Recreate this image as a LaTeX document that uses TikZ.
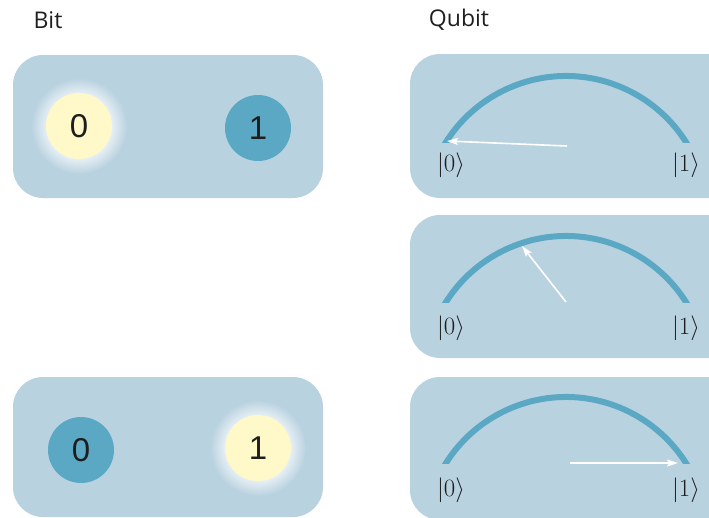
\documentclass[tikz,border=0pt]{standalone}
\usepackage{fontspec}
\usetikzlibrary{arrows.meta}
\newfontfamily\titlefont{Open Sans}
\newfontfamily\digitfont{Liberation Sans}
\definecolor{boxc}{HTML}{B9D2E0}
\definecolor{bluec}{HTML}{5BA8C5}
\definecolor{yellowc}{HTML}{FFF8C9}
\definecolor{inkc}{HTML}{1E1E1E}
\colorlet{glowc}{white!65!boxc}
\pgfdeclareradialshading{bitglow}{\pgfpoint{0bp}{0bp}}{%
  color(0bp)=(glowc); color(17bp)=(glowc); color(25bp)=(boxc)}
\tikzset{
  panel/.style={fill=boxc, rounded corners=30pt},
  title/.style={font=\titlefont\fontsize{23}{27}\selectfont, text=inkc},
  bitoff/.style={circle, fill=bluec, minimum size=66pt, inner sep=0pt,
    font=\digitfont\fontsize{33}{38}\selectfont, text=inkc},
  biton/.style={bitoff, fill=yellowc},
  track/.style={draw=bluec, line width=6pt},
  ket/.style={font=\fontsize{23.5}{27}\selectfont, text=inkc, inner sep=0pt},
  state/.style={draw=white, line width=1.6pt, -{Stealth[length=11pt,width=7pt,inset=2pt]}}
}
\begin{document}
\begin{tikzpicture}[x=1pt,y=-1pt]
  \useasboundingbox (0,0) rectangle (709,517);
  \clip (0,0) rectangle (709,517);

  % column titles
  \node[title] (tbit) at (48,20) {Bit};
  \node[title] (tqubit) at (459,20) {Qubit};

  % classical bit panels
  \fill[panel] (13,55) rectangle (323,198);
  \fill[panel] (13,377) rectangle (323,517);
  \shade[shading=bitglow] (79,126) circle [radius=48];
  \shade[shading=bitglow] (258,448) circle [radius=48];
  \node[biton]  (b0a) at (79,126) {0};
  \node[bitoff] (b1a) at (258,128) {1};
  \node[bitoff] (b0b) at (81,450) {0};
  \node[biton]  (b1b) at (258,448) {1};

  % qubit panels
  \fill[panel] (410,54) rectangle (760,198);
  \fill[panel] (410,215) rectangle (760,358);
  \fill[panel] (410,377) rectangle (760,520);

  % state arcs: circle of radius 142 whose centre lies 76 below the base
  % line; the ends are cut level with the base line
  \coordinate (c1) at (566,218);
  \coordinate (c2) at (566,378);
  \coordinate (c3) at (566,539);
  \begin{scope}
    \clip (400,42) rectangle (709,142);
    \draw[track] (c1) ++(205:142) arc[start angle=205, end angle=335, radius=142];
  \end{scope}
  \begin{scope}
    \clip (400,202) rectangle (709,302);
    \draw[track] (c2) ++(205:142) arc[start angle=205, end angle=335, radius=142];
  \end{scope}
  \begin{scope}
    \clip (400,363) rectangle (709,463);
    \draw[track] (c3) ++(205:142) arc[start angle=205, end angle=335, radius=142];
  \end{scope}

  % basis labels
  \node[ket] (k0a) at (451,165) {$|0\rangle$};
  \node[ket] (k1a) at (686,165) {$|1\rangle$};
  \node[ket] (k0b) at (451,328) {$|0\rangle$};
  \node[ket] (k1b) at (686,328) {$|1\rangle$};
  \node[ket] (k0c) at (451,490) {$|0\rangle$};
  \node[ket] (k1c) at (686,490) {$|1\rangle$};

  % state vectors
  \coordinate (o1) at (567,146);
  \coordinate (t1) at (447,141);
  \coordinate (o2) at (566,302);
  \coordinate (t2) at (522,246);
  \coordinate (o3) at (570,463);
  \coordinate (t3) at (678,463);
  \draw[state] (o1) -- (t1);
  \draw[state] (o2) -- (t2);
  \draw[state] (o3) -- (t3);
\end{tikzpicture}
\end{document}
